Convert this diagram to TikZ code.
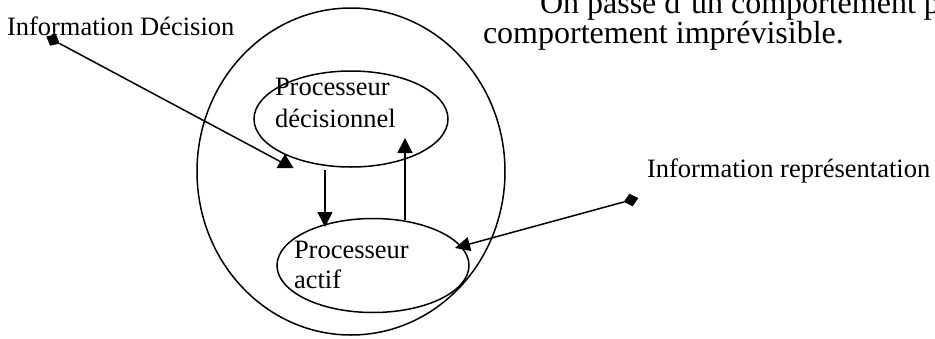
\documentclass[tikz,border=0pt]{standalone}
\usepackage{fontspec}
\setmainfont{Liberation Serif}
\usetikzlibrary{shapes.geometric,arrows.meta}
\begin{document}
\begin{tikzpicture}[x=1pt,y=1pt,
  line width=1.5pt,
  every node/.style={inner sep=0pt, outer sep=0pt},
  txt/.style={anchor=base west, font=\fontsize{26.5}{32}\selectfont},
  bodytxt/.style={anchor=base west, font=\fontsize{32}{38}\selectfont},
  oval/.style={draw, ellipse, line width=1.5pt},
  endmark/.style={draw=none, fill, diamond, minimum width=15pt, minimum height=13pt},
  arr/.style={-{Triangle[length=15pt,width=15pt]}},
]
\useasboundingbox (0,0) rectangle (935,-338);
\clip (0,0) rectangle (935,-338);

% the system and its two processors
\node[oval, minimum width=308pt, minimum height=327pt] (outer) at (351,-171.5) {};
\node[oval, minimum width=194pt, minimum height=96pt] (dec) at (351,-119) {};
\node[oval, minimum width=192pt, minimum height=94pt] (act) at (373,-265.5) {};

% labels
\node[txt] (decA) at (275,-95) {Processeur};
\node[txt] (decB) at (275,-127) {décisionnel};
\node[txt] (actA) at (294,-258) {Processeur};
\node[txt] (actB) at (294,-288) {actif};
\node[txt] (infoD) at (7,-35) {Information Décision};
\node[txt] (infoR) at (647,-177) {Information représentation};

% running text of the page
\node[bodytxt] (para1) at (540,-13) {On passe d'un comportement p};
\node[bodytxt] (para2) at (483,-43) {comportement imprévisible.};

% incoming information
\node[endmark, rotate=-28] (srcD) at (53,-40) {};
\node[endmark, rotate=15] (srcR) at (631,-200) {};
\coordinate (inD) at (283,-163);
\coordinate (inR) at (455,-248);
\draw (srcD) -- (inD);
\fill (285,-154) -- (276.5,-168) -- (293.5,-168) -- cycle;
\draw[-{Triangle[length=15pt,width=14pt]}] (srcR) -- (inR);

% exchanges between the processors
\coordinate (dTop) at (325,-170);
\coordinate (dEnd) at (325,-227);
\coordinate (uBot) at (405,-220);
\coordinate (uEnd) at (405,-138);
\draw[arr] (dTop) -- (dEnd);
\draw[arr] (uBot) -- (uEnd);
\end{tikzpicture}
\end{document}
